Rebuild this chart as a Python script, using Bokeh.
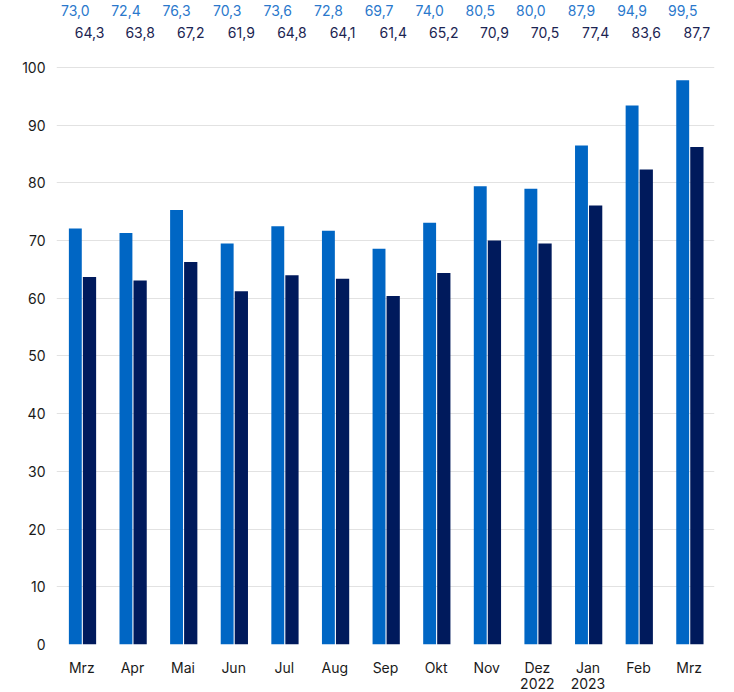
from bokeh.plotting import figure
from bokeh.models import ColumnDataSource, FixedTicker, Range1d
from bokeh.transform import dodge
from bokeh.core.properties import value
from bokeh.embed import file_html
from bokeh.resources import INLINE

# ---- data ----
# (the second "Mrz" carries a zero-width space so that the two factors stay distinct)
months = ["Mrz", "Apr", "Mai", "Jun", "Jul", "Aug", "Sep", "Okt", "Nov",
          "Dez\n2022", "Jan\n2023", "Feb", "Mrz\u200b"]
# bar heights as drawn
series_a = [72.1, 71.3, 75.3, 69.5, 72.5, 71.7, 68.6, 73.1, 79.4, 79.0, 86.5, 93.4, 97.8]
series_b = [63.7, 63.1, 66.3, 61.2, 64.0, 63.4, 60.4, 64.4, 70.0, 69.5, 76.1, 82.3, 86.2]
# values printed above the chart
labels_a = [73.0, 72.4, 76.3, 70.3, 73.6, 72.8, 69.7, 74.0, 80.5, 80.0, 87.9, 94.9, 99.5]
labels_b = [64.3, 63.8, 67.2, 61.9, 64.8, 64.1, 61.4, 65.2, 70.9, 70.5, 77.4, 83.6, 87.7]
y_ticks = [0, 10, 20, 30, 40, 50, 60, 70, 80, 90, 100]

def fmt(v):
    return f"{v:.1f}".replace(".", ",")

src = ColumnDataSource(dict(
    month=months,
    a=series_a,
    b=series_b,
    la=[fmt(v) for v in labels_a],
    lb=[fmt(v) for v in labels_b],
))

FONT = "Inter"
LIGHT = "#0066c4"
DARK = "#001a5c"

p = figure(
    x_range=months,
    frame_width=658, frame_height=650,
    min_border_left=48, min_border_right=12, min_border_top=0, min_border_bottom=40,
    output_backend="svg", toolbar_location=None,
    margin=(-6, 0, 0, 8),
)
p.y_range = Range1d(0, 112.65)

p.vbar(x=dodge("month", -0.128, range=p.x_range), top="a", width=0.255,
       source=src, fill_color=LIGHT, line_color=None)
p.vbar(x=dodge("month", 0.152, range=p.x_range), top="b", width=0.262,
       source=src, fill_color=DARK, line_color=None)

p.text(x=dodge("month", -0.128, range=p.x_range), y=109.85, text="la", source=src,
       text_font=value(FONT), text_font_size="14px", text_color="#2a78cc",
       text_align="center", text_baseline="middle")
p.text(x=dodge("month", 0.152, range=p.x_range), y=106.1, text="lb", source=src,
       text_font=value(FONT), text_font_size="14px", text_color="#1b2452",
       text_align="center", text_baseline="middle")

p.outline_line_color = None
p.background_fill_color = "white"
p.border_fill_color = "white"

p.xgrid.grid_line_color = None
p.ygrid.ticker = FixedTicker(ticks=y_ticks)
p.ygrid.grid_line_color = "#e2e2e2"
p.ygrid.grid_line_width = 1

p.yaxis.ticker = FixedTicker(ticks=y_ticks)
p.yaxis.axis_line_color = None
p.yaxis.major_tick_line_color = None
p.yaxis.minor_tick_line_color = None
p.yaxis.major_tick_in = 0
p.yaxis.major_tick_out = 0
p.yaxis.major_label_standoff = 11
p.yaxis.major_label_text_font = FONT
p.yaxis.major_label_text_font_size = "14px"
p.yaxis.major_label_text_color = "#1a1a1a"

p.xaxis.axis_line_color = None
p.xaxis.major_tick_line_color = None
p.xaxis.minor_tick_line_color = None
p.xaxis.major_tick_in = 0
p.xaxis.major_tick_out = 0
p.xaxis.major_label_standoff = 14
p.xaxis.major_label_text_font = FONT
p.xaxis.major_label_text_font_size = "14px"
p.xaxis.major_label_text_color = "#1a1a1a"
p.xaxis.major_label_text_line_height = 0.95

open("out.html", "w").write(file_html(p, INLINE))
